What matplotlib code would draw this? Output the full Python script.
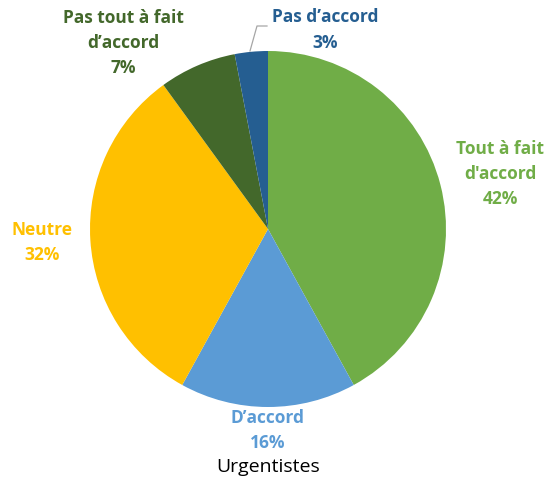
import numpy as np
import matplotlib
matplotlib.use("Agg")
import matplotlib.pyplot as plt

# Data (clockwise from 12 o'clock)
labels = ["Tout à fait\nd'accord", "D’accord", "Neutre", "Pas tout à fait\nd’accord", "Pas d’accord"]
values = [42, 16, 32, 7, 3]
colors = ["#70AD47", "#5B9BD5", "#FFC000", "#43682B", "#255E91"]
title = "Urgentistes"

W, H = 548, 481
fig = plt.figure(figsize=(W / 100, H / 100), dpi=100)

# pie centre and radius in pixels
cx, cy, r = 268, 230, 178
ax = fig.add_axes([(cx - r) / W, (H - cy - r) / H, 2 * r / W, 2 * r / H])
ax.pie(values, colors=colors, startangle=90, counterclock=False,
       wedgeprops=dict(linewidth=0))
ax.set_xlim(-1, 1)
ax.set_ylim(-1, 1)
ax.set_aspect("equal")
ax.axis("off")

# label positions in pixels (centre of text block)
label_pos = [(500, 174), (268, 431), (42, 243), (123, 43), (325, 30)]
font = dict(family=["Open Sans", "DejaVu Sans"], fontsize=12.5, fontweight="bold")
for lab, v, c, (px, py) in zip(labels, values, colors, label_pos):
    fig.text(px / W, 1 - py / H, "%s\n%d%%" % (lab, v), color=c, ha="center",
             va="center", linespacing=1.5, **font)

# leader line for the small slice
lx = np.array([250, 257, 267]) / W
ly = 1 - np.array([52, 27, 27]) / H
fig.add_artist(plt.Line2D(lx, ly, color="#A6A6A6", lw=0.9))

fig.text(cx / W, 1 - 467 / H, title, ha="center", va="center", color="black",
         family=["Open Sans", "DejaVu Sans"], fontsize=14)

fig.savefig("out.png", dpi=100)
